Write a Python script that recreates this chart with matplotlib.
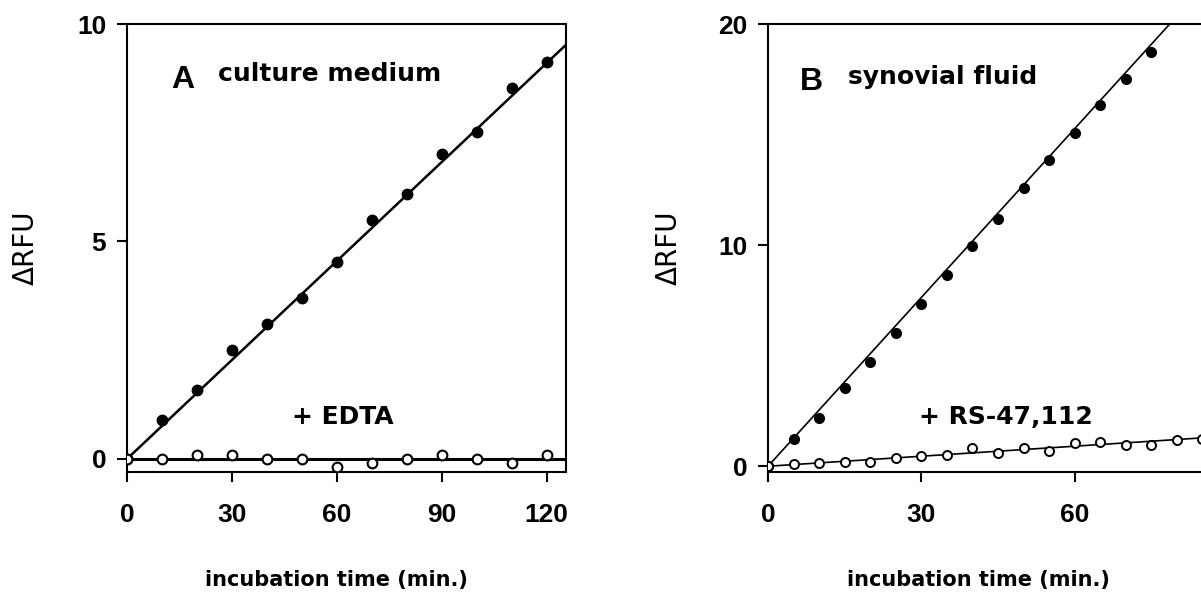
import matplotlib
matplotlib.use("Agg")
import matplotlib.pyplot as plt

plt.rcParams['font.family'] = ['Liberation Sans', 'DejaVu Sans']

# panel A: culture medium
a_time = [0, 10, 20, 30, 40, 50, 60, 70, 80, 90, 100, 110, 120]
a_ctrl = [0, 0.9, 1.59, 2.51, 3.11, 3.7, 4.52, 5.5, 6.1, 7.0, 7.52, 8.52, 9.12]
a_edta = [0, 0, 0.09, 0.1, 0, 0, -0.18, -0.09, 0, 0.09, 0, -0.09, 0.09]
a_fit_x = [0, 126]
a_fit_ctrl = [0, 9.56]
a_fit_edta = [0, 0]

# panel B: synovial fluid
b_time_ctrl = [0, 5, 10, 15, 20, 25, 30, 35, 40, 45, 50, 55, 60, 65, 70, 75]
b_ctrl = [0, 1.25, 2.18, 3.54, 4.7, 6.02, 7.36, 8.65, 9.95, 11.2, 12.58,
          13.83, 15.06, 16.32, 17.5, 18.74]
b_time_inh = [0, 5, 10, 15, 20, 25, 30, 35, 40, 45, 50, 55, 60, 65, 70, 75, 80, 85]
b_inh = [0, 0.08, 0.15, 0.2, 0.19, 0.38, 0.48, 0.51, 0.83, 0.6, 0.81, 0.68,
         1.04, 1.1, 0.98, 0.98, 1.19, 1.24]
b_fit_x = [0, 90]
b_fit_ctrl = [0, 22.9]
b_fit_inh = [0, 1.36]

fig = plt.figure(figsize=(12.01, 6.0), dpi=100)
axA = fig.add_axes([127 / 1201, 128 / 600, 439 / 1201, 448 / 600])
axB = fig.add_axes([768 / 1201, 128 / 600, 460 / 1201, 448 / 600])

note = dict(fontsize=18, fontweight='bold', family='DejaVu Sans')
big = dict(fontsize=23, fontweight='bold')

# panel A
axA.plot(a_fit_x, a_fit_ctrl, color='black', lw=1.8, zorder=2)
axA.plot(a_fit_x, a_fit_edta, color='black', lw=2.2, zorder=2)
axA.plot(a_time, a_ctrl, 'o', color='black', ms=7.5, zorder=3)
axA.plot(a_time, a_edta, 'o', mfc='white', mec='black', mew=1.5, ms=7, zorder=3)
axA.set_xlim(0, 125.5)
axA.set_ylim(-0.3, 10)
axA.set_xticks([0, 30, 60, 90, 120])
axA.set_yticks([0, 5, 10])
axA.text(12.5, 8.54, 'A', **big)
axA.text(26.1, 8.69, 'culture medium', **note)
axA.text(47.3, 0.81, '+ EDTA', **note)

# panel B
axB.plot(b_fit_x, b_fit_ctrl, color='black', lw=1.2, zorder=2)
axB.plot(b_fit_x, b_fit_inh, color='black', lw=1.2, zorder=2)
axB.plot(b_time_ctrl, b_ctrl, 'o', color='black', ms=7, zorder=3)
axB.plot(b_time_inh, b_inh, 'o', mfc='white', mec='black', mew=1.4, ms=6.5, zorder=3)
axB.set_xlim(0, 90)
axB.set_ylim(-0.26, 20)
axB.set_xticks([0, 30, 60])
axB.set_yticks([0, 10, 20])
axB.text(6.3, 17.0, 'B', **big)
axB.text(15.6, 17.3, 'synovial fluid', **note)
axB.text(29.5, 1.89, '+ RS-47,112', **note)

for ax, xl_x, yl_x in [(axA, 0.476, -0.230), (axB, 0.4565, -0.215)]:
    for s in ax.spines.values():
        s.set_linewidth(1.5)
    ax.tick_params(direction='out', length=7, width=1.5, labelsize=19)
    ax.tick_params(axis='x', pad=15)
    ax.tick_params(axis='y', pad=8)
    for lab in ax.get_xticklabels() + ax.get_yticklabels():
        lab.set_fontweight('bold')
    ax.set_xlabel('incubation time (min.)', fontsize=15, fontweight='bold',
                  family='DejaVu Sans')
    ax.xaxis.label.set_va('center')
    ax.xaxis.set_label_coords(xl_x, -0.241)
    ax.set_ylabel('ΔRFU', fontsize=20, family='DejaVu Sans')
    ax.yaxis.label.set_va('center')
    ax.yaxis.set_label_coords(yl_x, 0.5)

fig.savefig('out.png', dpi=100)
